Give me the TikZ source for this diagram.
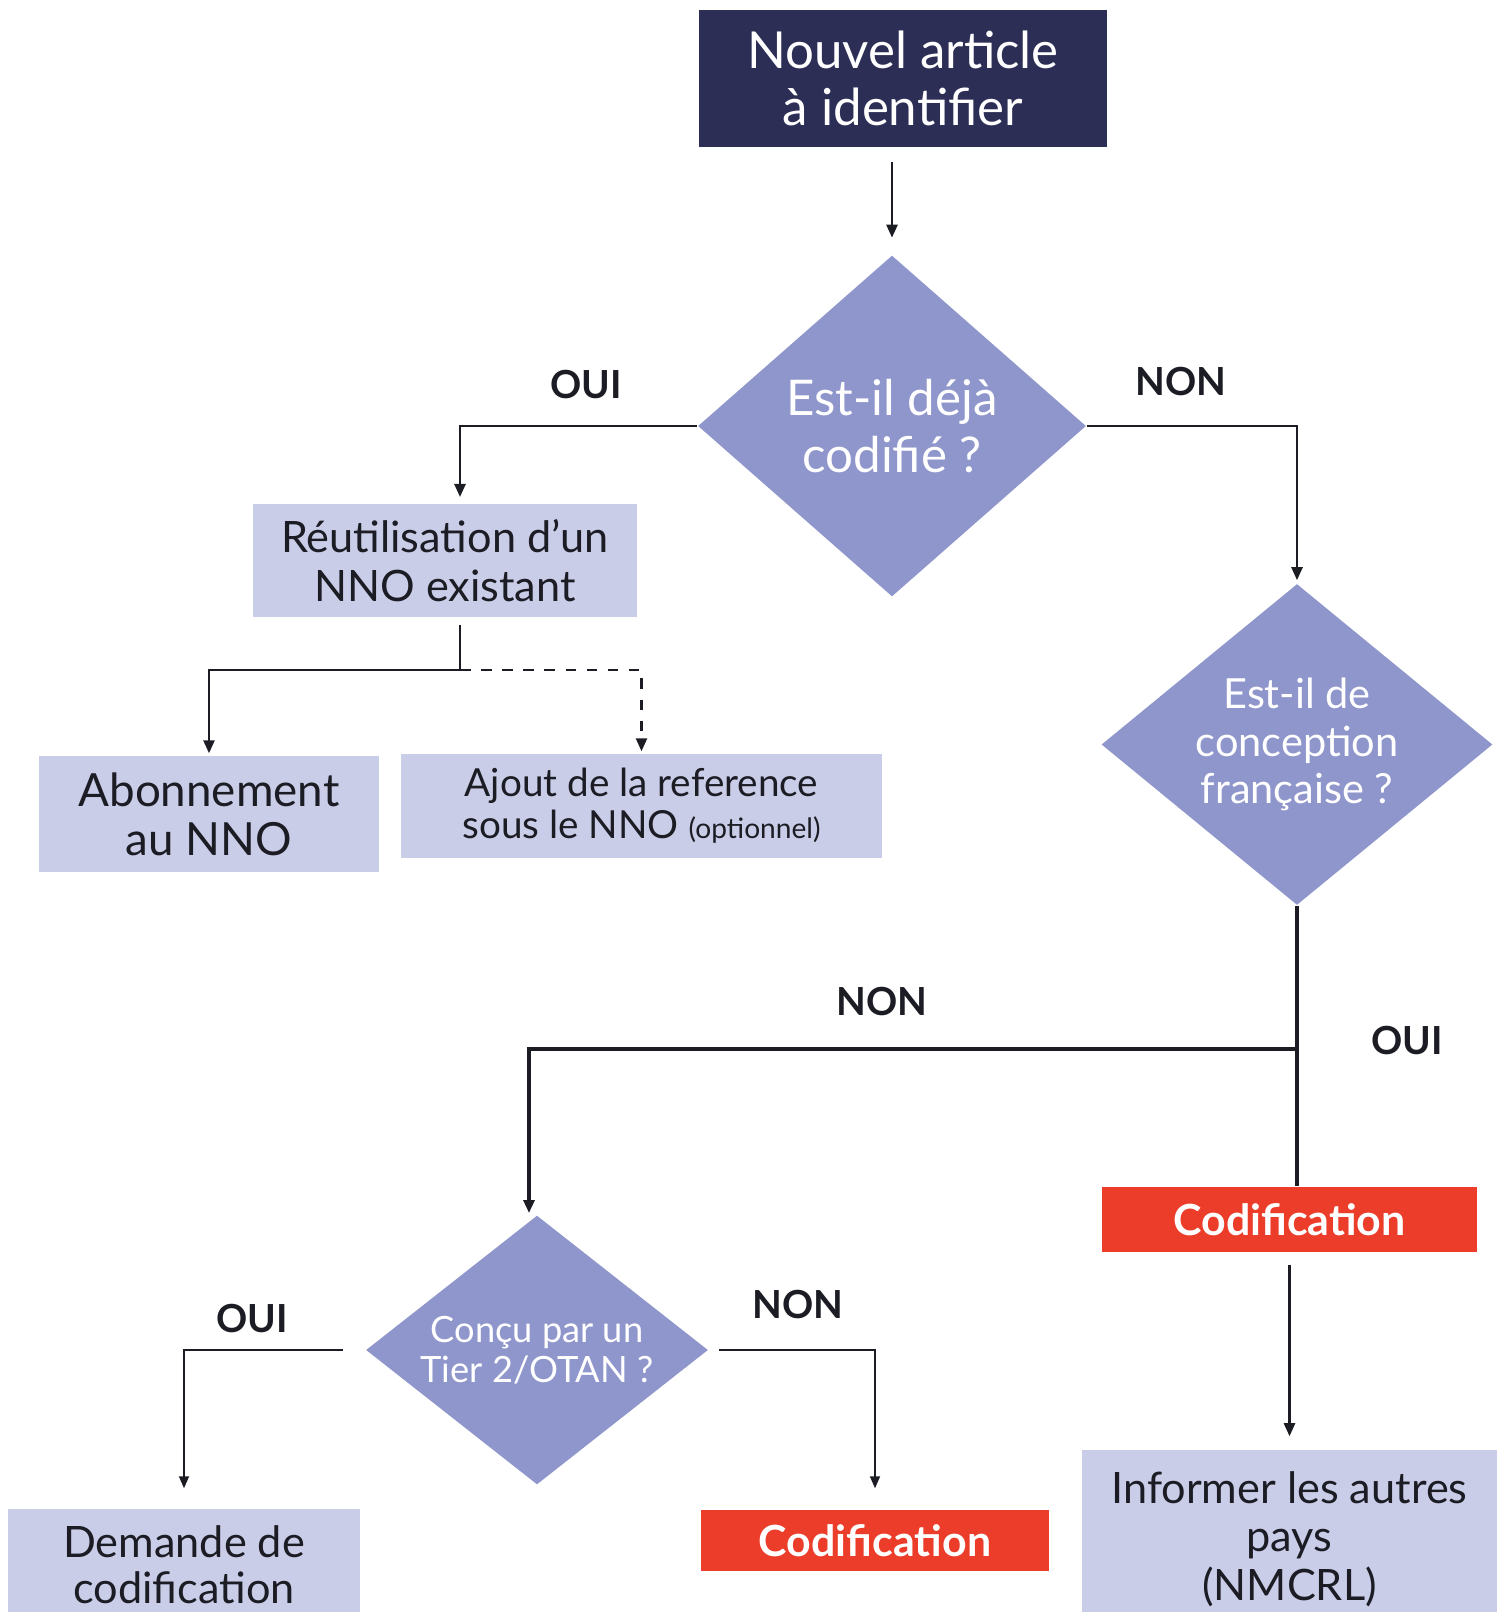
\documentclass[tikz,border=0pt]{standalone}
\usepackage{fontspec}
\setmainfont{Lato}
\usepackage{tikz}
\usepackage{xcolor}
\usetikzlibrary{shapes.geometric,arrows.meta,positioning}
\definecolor{navy}{RGB}{44, 46, 86}
\definecolor{lavender}{RGB}{143, 150, 203}
\definecolor{pale}{RGB}{202, 205, 232}
\definecolor{alert}{RGB}{236, 60, 42}
\definecolor{ink}{RGB}{28, 28, 36}
\tikzstyle{arrow} = [
    line width=0.7pt,
    -{Stealth[length=1.3mm,width=1.1mm,inset=0pt]},
    draw=ink
]
\tikzstyle{thinarrow} = [
    line width=0.45pt,
    -{Stealth[length=1.2mm,width=1mm,inset=0pt]},
    draw=ink
]
\tikzstyle{link} = [
    line width=0.7pt,
    draw=ink
]
\tikzstyle{darkbox} = [
    rectangle,
    inner sep=0pt,
    text centered,
    align=center,
    fill=navy,
    text=white,
    font=\fontsize{14.5}{16.2}\selectfont
]
\tikzstyle{lightbox} = [
    rectangle,
    inner sep=0pt,
    text centered,
    align=center,
    fill=pale,
    text=ink,
    font=\fontsize{12.3}{13.8}\selectfont
]
\tikzstyle{redbox} = [
    rectangle,
    inner sep=0pt,
    text centered,
    fill=alert,
    text=white,
    font=\bfseries\fontsize{12.2}{14}\selectfont
]
\tikzstyle{question} = [
    diamond,
    inner sep=0pt,
    text centered,
    align=center,
    fill=lavender,
    text=white
]
\tikzstyle{answer} = [
    text=ink,
    font=\bfseries\fontsize{11}{13}\selectfont
]

\begin{document}
\begin{tikzpicture}[x=0.01cm, y=-0.01cm]
    \useasboundingbox (0,0) rectangle (1503,1612);
    \clip (0,0) rectangle (1503,1612);

    % boxes and questions
    \node[darkbox, minimum width=4.08cm, minimum height=1.37cm] (start) at (903,78.5) {Nouvel article\\à identifier};
    \node[question, aspect=1.14, minimum width=3.88cm, minimum height=3.41cm, font=\fontsize{14}{16.1}\selectfont] (codifie) at (892,426) {Est-il déjà\\codifié ?};
    \node[lightbox, minimum width=3.84cm, minimum height=1.13cm] (reuse) at (445,560.5) {Réutilisation d’un\\NNO existant};
    \node[lightbox, minimum width=3.40cm, minimum height=1.16cm, font=\fontsize{13}{14}\selectfont] (abonnement) at (209,814) {Abonnement\\au NNO};
    \node[lightbox, minimum width=4.81cm, minimum height=1.04cm, font=\fontsize{11}{12}\selectfont] (ajout) at (641.5,806) {Ajout de la reference\\sous le NNO {\fontsize{8}{10}\selectfont(optionnel)}};
    \node[question, aspect=1.22, minimum width=3.91cm, minimum height=3.21cm, font=\fontsize{11.8}{13.4}\selectfont] (francaise) at (1297,744.5) {Est-il de\\conception\\française ?};
    \node[redbox, minimum width=3.75cm, minimum height=0.65cm] (codifA) at (1289.5,1219.5) {Codification};
    \node[lightbox, minimum width=4.15cm, minimum height=1.78cm] (informer) at (1289.5,1539) {Informer les autres\\pays\\(NMCRL)};
    \node[question, aspect=1.27, minimum width=3.42cm, minimum height=2.69cm, font=\fontsize{10.3}{11.4}\selectfont] (tier) at (537,1350) {Conçu par un\\Tier 2/OTAN ?};
    \node[lightbox, minimum width=3.52cm, minimum height=1.12cm, font=\fontsize{12.3}{13}\selectfont] (demande) at (184,1565) {Demande de\\codification};
    \node[redbox, minimum width=3.48cm, minimum height=0.61cm] (codifB) at (875,1540.5) {Codification};

    % answers
    \node[answer] (oui1) at (586,385) {OUI};
    \node[answer] (non1) at (1181,382) {NON};
    \node[answer] (non2) at (882,1002) {NON};
    \node[answer] (oui2) at (1407,1041) {OUI};
    \node[answer] (oui3) at (252,1318) {OUI};
    \node[answer] (non3) at (798,1304) {NON};

    % connectors
    \coordinate (reuin) at (460,497);
    \coordinate (fork1) at (460,670);
    \coordinate (fork2) at (1297,1049);
    \coordinate (tierin) at (529,1213);

    \draw[arrow] ([yshift=-1.4mm]start.south -| codifie.north) -- ([yshift=1.7mm]codifie.north);
    \draw[arrow] (codifie.west) -| (reuin);
    \draw[arrow] (codifie.east) -| ([yshift=0.3mm]francaise.north);
    \draw[link] ([yshift=-0.7mm]reuse.south -| reuin) -- (fork1);
    \draw[arrow] (fork1) -| ([yshift=0.2mm]abonnement.north);
    \draw[arrow, dashed] (fork1) -| ([yshift=0.2mm]ajout.north);
    \draw[link, line width=1.1pt] (francaise.south) -- (codifA.north -| francaise.south);
    \draw[arrow, line width=1pt] (fork2) -| (tierin);
    \draw[arrow] ([yshift=-1.2mm]codifA.south) -- ([yshift=1.3mm]informer.north);
    \draw[thinarrow] ([xshift=-2.2mm]tier.west) -| ([yshift=2mm]demande.north);
    \draw[thinarrow] ([xshift=1mm]tier.east) -| ([yshift=2.1mm]codifB.north);
\end{tikzpicture}
\end{document}
